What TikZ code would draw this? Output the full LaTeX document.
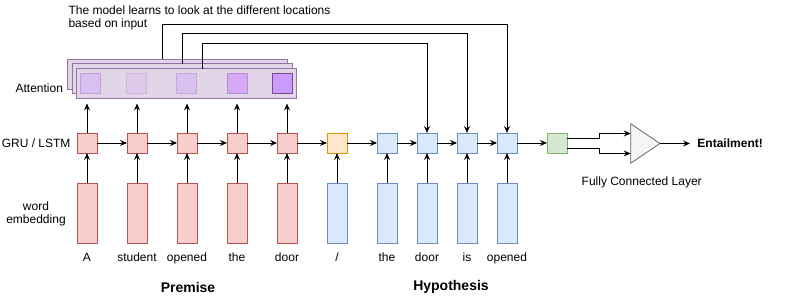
\documentclass[tikz,border=0pt]{standalone}
\usepackage{fontspec}
\setmainfont{Liberation Sans}
\usepackage{tikz}
\usetikzlibrary{positioning, arrows.meta, calc}
\definecolor{premfill}{HTML}{F8CECC}
\definecolor{premline}{HTML}{B85450}
\definecolor{hypfill}{HTML}{DAE8FC}
\definecolor{hypline}{HTML}{6C8EBF}
\definecolor{sepfill}{HTML}{FFE6CC}
\definecolor{sepline}{HTML}{D79B00}
\definecolor{outfill}{HTML}{D5E8D4}
\definecolor{outline}{HTML}{82B366}
\definecolor{attfill}{HTML}{E1D5E7}
\definecolor{attline}{HTML}{9673A6}
\definecolor{fcfill}{HTML}{F5F5F5}
\definecolor{fcline}{HTML}{666666}

\begin{document}
\begin{tikzpicture}[x=1pt, y=-1pt,
  cell/.style={rectangle, draw, line width=0.8pt, minimum width=20pt, minimum height=20pt, inner sep=0pt, outer sep=0pt},
  embed/.style={rectangle, draw, line width=0.8pt, minimum width=20pt, minimum height=60pt, inner sep=0pt, outer sep=0pt},
  prem/.style={fill=premfill, draw=premline},
  hyp/.style={fill=hypfill, draw=hypline},
  attframe/.style={rectangle, fill=attfill, draw=attline, line width=0.8pt, minimum width=220pt, minimum height=30pt, inner sep=0pt, outer sep=0pt},
  attcell/.style={rectangle, line width=0.8pt, minimum width=20pt, minimum height=20pt, inner sep=0pt},
  word/.style={font=\fontsize{12}{14}\selectfont, text height=8.6pt, text depth=2.5pt, inner sep=0pt},
  lbl/.style={font=\fontsize{12}{14}\selectfont},
  title/.style={font=\fontsize{14}{16}\selectfont\bfseries},
  arrow/.style={-{Stealth[length=7pt, width=6pt, inset=2.5pt]}, line width=0.9pt}
]
  \useasboundingbox (0,0) rectangle (785,297);

  % recurrent cells
  \node[cell, prem] (g1) at (87,143) {};
  \foreach \i/\j in {1/2,2/3,3/4,4/5}
    \node[cell, prem, right=30pt of g\i] (g\j) {};
  \node[cell, fill=sepfill, draw=sepline, right=30pt of g5] (g6) {};
  \node[cell, hyp, right=30pt of g6] (g7) {};
  \foreach \i/\j in {7/8,8/9,9/10}
    \node[cell, hyp, right=20pt of g\i] (g\j) {};
  \node[cell, fill=outfill, draw=outline, right=30pt of g10] (gout) {};

  % embeddings and tokens
  \foreach \i/\w in {1/A,2/student,3/opened,4/the,5/door}{
    \node[embed, prem, below=30pt of g\i] (e\i) {};
    \node[word, below=10pt of e\i] (w\i) {\w};
  }
  \foreach \i/\w in {6/{/},7/the,8/door,9/is,10/opened}{
    \node[embed, hyp, below=30pt of g\i] (e\i) {};
    \node[word, below=10pt of e\i] (w\i) {\w};
  }

  \foreach \i in {1,...,10}
    \draw[arrow] (e\i) -- (g\i);
  \foreach \i/\j in {1/2,2/3,3/4,4/5,5/6,6/7,7/8,8/9,9/10}
    \draw[arrow] (g\i) -- (g\j);
  \draw[arrow] (g10) -- (gout);

  % attention stack
  \node[attframe] (attback) at (177.5,74) {};
  \node[attframe] (attmid) at (182.3,78.7) {};
  \node[attframe] (att) at (186.7,83.5) {};
  \node[attcell, fill={rgb,255:red,218;green,192;blue,242}, draw={rgb,255:red,192;green,160;blue,216}] (a1) at (90.3,83.7) {};
  \node[attcell, fill={rgb,255:red,221;green,202;blue,235}, draw={rgb,255:red,205;green,181;blue,221}] (a2) at (136.3,83.7) {};
  \node[attcell, fill={rgb,255:red,217;green,192;blue,240}, draw={rgb,255:red,197;green,168;blue,218}] (a3) at (186.3,83.7) {};
  \node[attcell, fill={rgb,255:red,213;green,169;blue,246}, draw={rgb,255:red,180;green,142;blue,208}] (a4) at (237.5,83.7) {};
  \node[attcell, fill={rgb,255:red,204;green,153;blue,255}, draw={rgb,255:red,110;green,80;blue,130}] (a5) at (282.3,83.7) {};

  \foreach \i in {1,...,5}
    \draw[arrow] (g\i) -- ([yshift=-5pt]g\i.north |- att.south);

  % attention feeds the hypothesis cells
  \draw[arrow] ($(attback.north west)+(94.6,0)$) -- ++(0,-35) -| (g10);
  \draw[arrow] ($(attmid.north west)+(110.4,0)$) -- ++(0,-30) -| (g9);
  \draw[arrow] ($(att.north west)+(125.6,0)$) -- ++(0,-25) -| (g8);

  % classifier
  \node[minimum width=29.3pt, minimum height=39.6pt, inner sep=0pt, outer sep=0pt] (fc) at (645.3,143.5) {};
  \draw[fill=fcfill, draw=fcline, line width=0.8pt] (fc.north west) -- (fc.east) -- (fc.south west) -- cycle;
  \draw[arrow] ([yshift=5pt]gout.east) -- ++(32,0) |- ([yshift=10pt]fc.west);
  \draw[arrow] ([yshift=-5pt]gout.east) -- ++(32,0) |- ([yshift=-10pt]fc.west);
  \node[lbl, font=\fontsize{12}{14}\selectfont\bfseries, right=34pt of fc.east, anchor=west] (result) {Entailment!};
  \draw[arrow, shorten >=4pt] (fc.east) -- (result);
  \node[lbl] (fclabel) at (641.7,182.7) {Fully Connected Layer};

  % row labels
  \node[lbl, left=3pt of g1] (grulabel) {GRU / LSTM};
  \node[lbl, anchor=east] (attlabel) at (66.5,88) {Attention};
  \node[lbl, align=center] (emblabel) at (36,214) {word\\[-1pt]embedding};
  \node[lbl, align=left, anchor=north west, font=\fontsize{12}{13.5}\selectfont] (note) at (65,2)
    {The model learns to look at the different locations\\based on input};

  \node[title] (premise) at (188,287) {Premise};
  \node[title] (hypothesis) at (451,287) {Hypothesis};
\end{tikzpicture}
\end{document}
